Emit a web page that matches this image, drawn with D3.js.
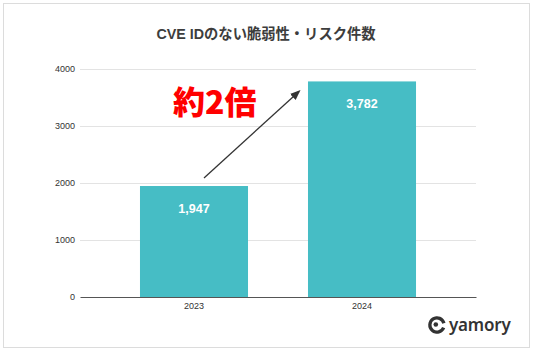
<!DOCTYPE html>
<html>
<head>
<meta charset="utf-8">
<script src="https://cdn.jsdelivr.net/npm/d3@7"></script>
<style>
  html, body { margin: 0; padding: 0; background: #fff; }
  svg { display: block; }
</style>
</head>
<body>
<div id="chart"></div>
<script>
// Data
const years = ["2023", "2024"];
const counts = [1947, 3782];
const yTicks = [0, 1000, 2000, 3000, 4000];
const title = "CVE IDのない脆弱性・リスク件数";
const callout = "約2倍";

const W = 536, H = 351;
const margin = { top: 69, right: 60, bottom: 54, left: 80 };
const width = W - margin.left - margin.right;   // 396
const height = H - margin.top - margin.bottom;  // 228

const svg = d3.select("#chart")
    .append("svg")
    .attr("width", W)
    .attr("height", H);

// Outer frame
svg.append("rect")
    .attr("x", 3.5).attr("y", 3.5)
    .attr("width", 526).attr("height", 344)
    .attr("fill", "#fff")
    .attr("stroke", "#dcdcdc")
    .attr("stroke-width", 1);

// Title
svg.append("text")
    .attr("x", 266)
    .attr("y", 39)
    .attr("text-anchor", "middle")
    .attr("font-family", "'Liberation Sans', 'Noto Sans CJK JP', sans-serif")
    .attr("font-size", 14.3)
    .attr("font-weight", "bold")
    .attr("fill", "#3d3d3d")
    .text(title);

const g = svg.append("g")
    .attr("transform", `translate(${margin.left},${margin.top})`);

// Scales
const x = d3.scaleBand()
    .domain(years)
    .range([0, width])
    .paddingInner(0.357)
    .paddingOuter(0.357);

const y = d3.scaleLinear()
    .domain([0, 4000])
    .range([height, 0]);

// Gridlines
g.append("g")
    .selectAll("line")
    .data(yTicks.filter(d => d > 0))
    .enter()
    .append("line")
    .attr("x1", 0).attr("x2", width)
    .attr("y1", d => y(d) + 0.5).attr("y2", d => y(d) + 0.5)
    .attr("stroke", "#e3e3e3")
    .attr("stroke-width", 1);

// Y axis labels
const yAxis = g.append("g")
    .call(d3.axisLeft(y).tickValues(yTicks).tickSize(0).tickPadding(5).tickFormat(d3.format("d")));
yAxis.select(".domain").remove();
yAxis.selectAll("text")
    .attr("font-family", "'Liberation Sans', Arial, sans-serif")
    .attr("font-size", 9)
    .attr("fill", "#333");

// Bars
g.selectAll(".bar")
    .data(years)
    .enter()
    .append("rect")
    .attr("class", "bar")
    .attr("x", d => x(d))
    .attr("y", (d, i) => y(counts[i]))
    .attr("width", x.bandwidth())
    .attr("height", (d, i) => height - y(counts[i]))
    .attr("fill", "#46bdc5");

// Value labels inside bars
g.selectAll(".val")
    .data(years)
    .enter()
    .append("text")
    .attr("class", "val")
    .attr("x", d => x(d) + x.bandwidth() / 2)
    .attr("y", (d, i) => y(counts[i]) + 27)
    .attr("text-anchor", "middle")
    .attr("font-family", "'Liberation Sans', Arial, sans-serif")
    .attr("font-size", 12.5)
    .attr("font-weight", "bold")
    .attr("fill", "#fff")
    .text((d, i) => d3.format(",")(counts[i]));

// X axis
const xAxis = g.append("g")
    .attr("transform", `translate(0,${height})`)
    .call(d3.axisBottom(x).tickSize(0).tickPadding(6));
xAxis.select(".domain")
    .attr("stroke", "#555")
    .attr("stroke-width", 1);
xAxis.selectAll("text")
    .attr("font-family", "'Liberation Sans', Arial, sans-serif")
    .attr("font-size", 9)
    .attr("fill", "#333");

// Arrow annotation
const defs = svg.append("defs");
defs.append("marker")
    .attr("id", "arrowhead")
    .attr("viewBox", "0 0 10 10")
    .attr("refX", 8).attr("refY", 5)
    .attr("markerWidth", 8).attr("markerHeight", 8)
    .attr("orient", "auto")
    .append("path")
    .attr("d", "M0,1 L10,5 L0,9 Z")
    .attr("fill", "#333");

const x0 = x(years[0]) + x.bandwidth() / 2 + 10;
const y0 = y(counts[0]) - 8;
const x1 = x(years[1]) - 9;
const y1 = y(counts[1]) + 10;
g.append("line")
    .attr("x1", x0).attr("y1", y0)
    .attr("x2", x1).attr("y2", y1)
    .attr("stroke", "#333")
    .attr("stroke-width", 1.3)
    .attr("marker-end", "url(#arrowhead)");

// Callout text
g.append("text")
    .attr("x", x(years[0]) + 33)
    .attr("y", y(counts[1]) + 33)
    .attr("font-family", "'Noto Sans CJK JP', 'Liberation Sans', sans-serif")
    .attr("font-size", 32)
    .attr("font-weight", 900)
    .attr("fill", "#ff0000")
    .text(callout);

// Logo
const logo = svg.append("g").attr("transform", "translate(437,325)");
logo.append("path")
    .attr("d", d3.arc()({ innerRadius: 5.5, outerRadius: 8.8, startAngle: Math.PI * 0.62, endAngle: Math.PI * 2.42 }))
    .attr("fill", "#333");
logo.append("circle")
    .attr("cx", -1.2).attr("cy", -0.5)
    .attr("r", 2.3)
    .attr("fill", "#333");
svg.append("text")
    .attr("x", 449)
    .attr("y", 331)
    .attr("font-family", "'Noto Sans', sans-serif")
    .attr("font-size", 17)
    .attr("font-weight", 600)
    .attr("letter-spacing", -0.2)
    .attr("fill", "#333")
    .text("yamory");
</script>
</body>
</html>
